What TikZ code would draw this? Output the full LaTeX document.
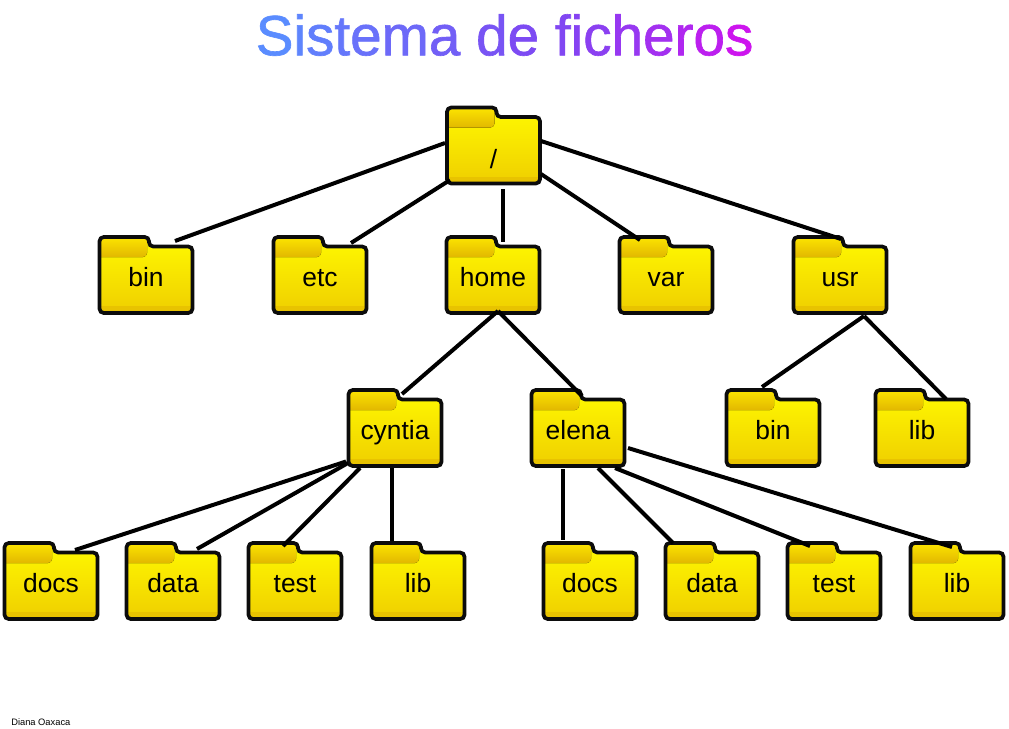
\documentclass[tikz,border=0pt]{standalone}
\usepackage{fontspec}
\setmainfont{Liberation Sans}
\font\titlefont="Liberation Sans:embolden=1.1" at 42.5pt
\definecolor{tA}{HTML}{5A8CFF}
\definecolor{tB}{HTML}{7F48F2}
\definecolor{tC}{HTML}{D40FEE}
\definecolor{fTop}{HTML}{FFF900}
\definecolor{fBot}{HTML}{EFCE00}
\definecolor{tabTop}{HTML}{FFE900}
\definecolor{tabBot}{HTML}{E2B800}
\definecolor{band}{HTML}{E8C300}
\definecolor{outl}{HTML}{0C0C0C}
\newcommand{\gA}[2]{\textcolor{tB!#1!tA}{#2}}
\newcommand{\gB}[2]{\textcolor{tC!#1!tB}{#2}}
\newcommand{\folderoutline}{(0.5,38) -- (0.5,0) -- (50,0) -- (50,9.5) -- (93.5,9.5) -- (93.5,76) -- (0.5,76) -- cycle}
\newcommand{\folder}[5][]{%
  \begin{scope}[shift={(#3,#4)}]
    \begin{scope}
      \clip[rounded corners=3.2pt] \folderoutline;
      \fill[top color=fTop,bottom color=fBot] (0,0) rectangle (94,77);
      \fill[top color=tabTop,bottom color=tabBot,rounded corners=3pt] (-5,-2) rectangle (48,20);
      \fill[band] (0,69) rectangle (94,77);
    \end{scope}
    \draw[folderline] \folderoutline;
    \node[foldertext,#1] (#2) at (47,38.5) {#5};
  \end{scope}}
\newcommand{\link}[6]{\draw[linkline] ([shift={(#2,#3)}]#1.center) -- ([shift={(#5,#6)}]#4.center);}
\tikzset{
  folderline/.style={draw=outl,line width=2.8pt,rounded corners=3.2pt},
  foldertext/.style={minimum width=70.5pt,minimum height=57.75pt,inner sep=0pt,text height=17.2pt,text depth=0pt,font=\fontsize{19.8pt}{22pt}\selectfont,text=black},
  linkline/.style={draw=black,line width=3pt},
  roottext/.style={text height=33.7pt},
  titletext/.style={font=\titlefont,inner sep=0pt},
  foot/.style={font=\fontsize{7pt}{9pt}\selectfont,inner sep=0pt,text=black}
}
\begin{document}
\begin{tikzpicture}[x=0.75pt,y=-0.75pt]
\useasboundingbox (0,0) rectangle (1009,728);
\fill[white] (0,0) rectangle (1009,728);
\node[titletext] (title) at (504.5,35) {\gA{0}{S}\gA{11}{i}\gA{20}{s}\gA{31}{t}\gA{40}{e}\gA{52}{m}\gA{66}{a}\gA{80}{\ }\gA{82}{d}\gA{95}{e}\gB{0}{\ }\gB{2}{f}\gB{8}{i}\gB{14}{c}\gB{28}{h}\gB{42}{e}\gB{58}{r}\gB{72}{o}\gB{92}{s}};
\folder[roottext]{root}{446.5}{107.5}{/}
\folder{bin}{99}{237}{bin}
\folder{etc}{273}{237}{etc}
\folder{home}{446}{237}{home}
\folder{var}{619}{237}{var}
\folder{usr}{793}{237}{usr}
\folder{cyntia}{348}{390}{cyntia}
\folder{elena}{531}{390}{elena}
\folder{binb}{726}{390}{bin}
\folder{libb}{875}{390}{lib}
\folder{docsa}{4}{543}{docs}
\folder{dataa}{126}{543}{data}
\folder{testa}{248}{543}{test}
\folder{liba}{371}{543}{lib}
\folder{docsc}{543}{543}{docs}
\folder{datac}{665}{543}{data}
\folder{testc}{787}{543}{test}
\folder{libc}{910}{543}{lib}
\link{root}{-48.5}{-3}{bin}{29}{-34.5}
\link{root}{-43.5}{34}{etc}{31}{-32.5}
\link{root}{9.5}{43}{home}{10}{-33.5}
\link{root}{47.5}{28}{var}{-26}{-35.5}
\link{root}{47.5}{-5}{usr}{1}{-36.5}
\link{home}{5}{35.5}{cyntia}{7}{-34.5}
\link{home}{5}{35.5}{elena}{4}{-32.5}
\link{usr}{24}{40.5}{binb}{-11}{-41.5}
\link{usr}{24}{40.5}{libb}{24}{-29.5}
\link{cyntia}{-49}{33}{docsa}{24}{-31.5}
\link{cyntia}{-47}{34.5}{dataa}{24}{-32.5}
\link{cyntia}{-35}{39.5}{testa}{-12}{-35.5}
\link{cyntia}{-3}{39.5}{liba}{-26}{-41}
\link{elena}{-15}{40.5}{docsc}{-27}{-41.5}
\link{elena}{20}{39.5}{datac}{-39}{-38.5}
\link{elena}{37}{39.5}{testc}{-24}{-35.5}
\link{elena}{50}{19.5}{libc}{-5}{-34.5}
\node[foot,anchor=base west] (author) at (11,725) {Diana Oaxaca};
\end{tikzpicture}
\end{document}
